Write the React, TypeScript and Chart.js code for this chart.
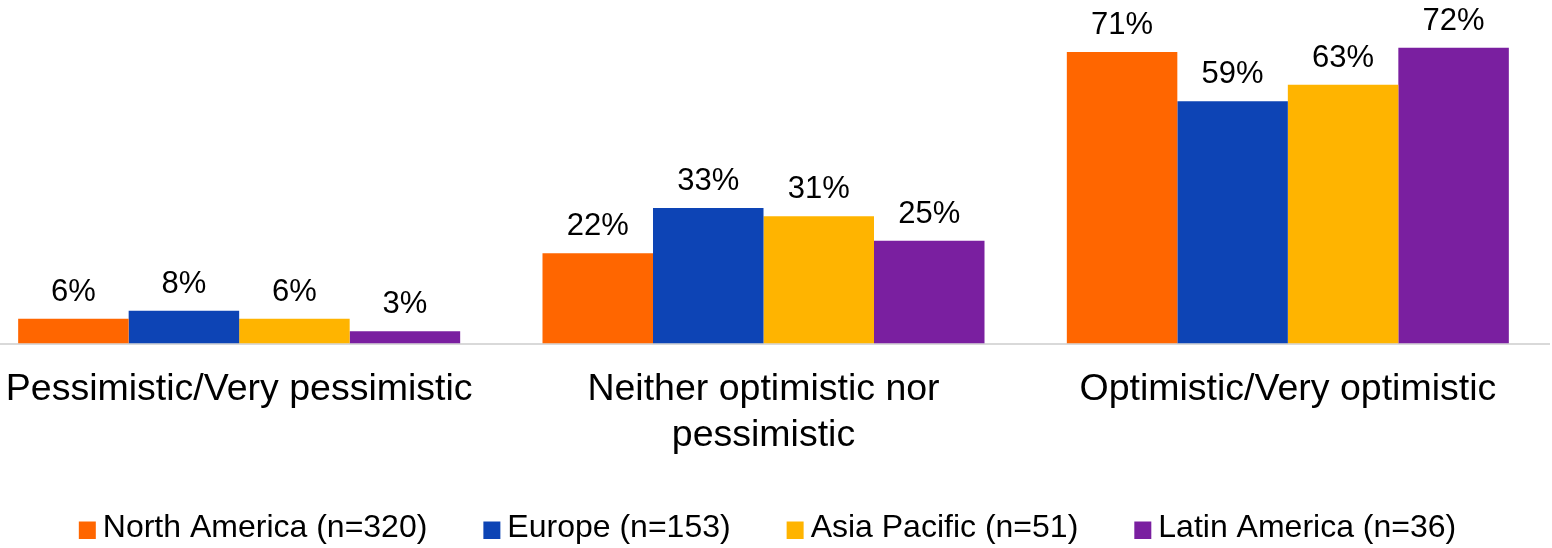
import React, { useEffect, useRef } from "react";
import { Chart, registerables } from "chart.js";

Chart.register(...registerables);

// Outlook by region, share of respondents (%)
const categories: string[][] = [
  ["Pessimistic/Very pessimistic"],
  ["Neither optimistic nor", "pessimistic"],
  ["Optimistic/Very optimistic"],
];
const seriesNames = [
  "North America (n=320)",
  "Europe (n=153)",
  "Asia Pacific (n=51)",
  "Latin America (n=36)",
];
const northAmerica = [6, 22, 71];
const europe = [8, 33, 59];
const asiaPacific = [6, 31, 63];
const latinAmerica = [3, 25, 72];
const seriesColors = ["#FF6600", "#0D44B5", "#FFB400", "#7A1FA0"];

const FONT = '"Liberation Sans", Arial, sans-serif';

// Square legend swatch, drawn on the right half of a transparent image so the
// text sits close to the square.
function makeSwatch(color: string): HTMLCanvasElement {
  const c = document.createElement("canvas");
  c.width = 36;
  c.height = 21;
  const g = c.getContext("2d")!;
  g.fillStyle = color;
  g.fillRect(18, 4, 17, 17);
  return c;
}

const valueLabels = {
  id: "valueLabels",
  afterDatasetsDraw(chart: any) {
    const { ctx } = chart;
    ctx.save();
    ctx.font = `31px ${FONT}`;
    ctx.fillStyle = "#000";
    ctx.textAlign = "center";
    ctx.textBaseline = "alphabetic";
    chart.data.datasets.forEach((ds: any, i: number) => {
      chart.getDatasetMeta(i).data.forEach((bar: any, j: number) => {
        ctx.fillText(`${ds.data[j]}%`, bar.x, bar.y - 18);
      });
    });
    ctx.restore();
  },
};

export default function App() {
  const canvasRef = useRef<HTMLCanvasElement | null>(null);

  useEffect(() => {
    if (!canvasRef.current) return;
    const values = [northAmerica, europe, asiaPacific, latinAmerica];
    const swatches = seriesColors.map(makeSwatch);

    const chart = new Chart(canvasRef.current, {
      type: "bar",
      data: {
        labels: categories,
        datasets: values.map((data, i) => ({
          label: seriesNames[i],
          data,
          backgroundColor: seriesColors[i],
          borderWidth: 0,
          categoryPercentage: 0.843,
          barPercentage: 1,
        })),
      },
      options: {
        responsive: false,
        animation: false,
        layout: { padding: { top: 15, left: 0, right: 0, bottom: 0 } },
        scales: {
          x: {
            grid: { display: false, drawTicks: false },
            border: { display: true, color: "#D9D9D9", width: 2 },
            ticks: {
              color: "#000",
              padding: 22.5,
              maxRotation: 0,
              autoSkip: false,
              font: { family: FONT, size: 37.5, lineHeight: 1.24 },
            },
            afterFit: (scale: any) => {
              scale.height = 120.5;
            },
          },
          y: {
            display: false,
            min: 0,
            max: 80,
          },
        },
        plugins: {
          tooltip: { enabled: false },
          legend: {
            position: "bottom",
            labels: {
              color: "#000",
              font: { family: FONT, size: 32 },
              usePointStyle: true,
              pointStyleWidth: 16,
              padding: 48,
              generateLabels: (c: any) => {
                const items = Chart.defaults.plugins.legend.labels.generateLabels(c);
                return items.map((it: any, i: number) => ({ ...it, pointStyle: swatches[i] }));
              },
            },
          },
        },
      },
      plugins: [valueLabels],
    });

    return () => chart.destroy();
  }, []);

  return (
    <div
      style={{
        position: "fixed",
        left: 0,
        top: 0,
        width: 1552,
        height: 548,
        overflow: "hidden",
        background: "#fff",
      }}
    >
      <div style={{ position: "absolute", left: -23, top: 0 }}>
        <canvas ref={canvasRef} width={1573} height={554} style={{ display: "block" }} />
      </div>
    </div>
  );
}
